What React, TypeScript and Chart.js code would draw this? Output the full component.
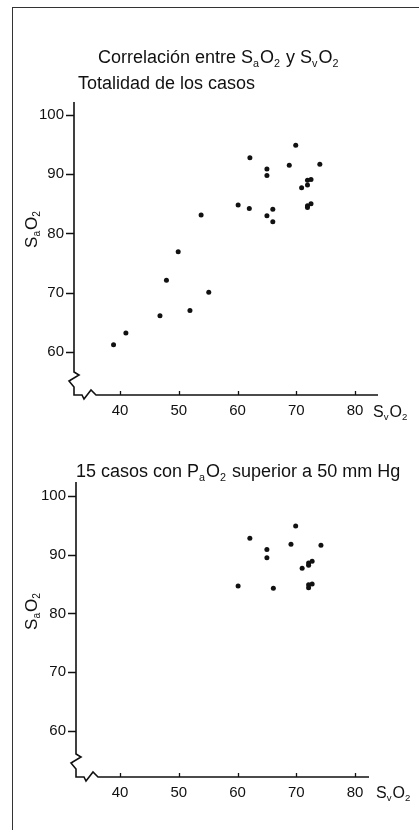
import React, { useEffect, useRef } from "react";
import { Chart, registerables } from "chart.js";

Chart.register(...registerables);

// ---- data (SvO2 on x, SaO2 on y) ----
const allCasesSvO2 = [
  38.9, 41.0, 46.8, 47.9, 49.9, 51.9, 55.1, 53.8, 60.1, 62.0, 65.0, 66.0, 66.0,
  62.1, 65.0, 65.0, 68.8, 69.9, 74.0, 70.9, 71.9, 72.5, 71.9, 71.9, 72.5, 71.9,
];
const allCasesSaO2 = [
  61.2, 63.2, 66.1, 72.1, 76.9, 67.0, 70.1, 83.1, 84.8, 84.2, 83.0, 84.1, 82.0,
  92.8, 90.9, 89.8, 91.5, 94.9, 91.7, 87.7, 89.0, 89.1, 88.2, 84.7, 85.0, 84.4,
];
const highPaO2SvO2 = [
  60.1, 62.1, 65.0, 65.0, 66.1, 69.9, 69.1, 74.2, 71.0, 72.1, 72.7, 72.1, 72.1, 72.7, 72.1,
];
const highPaO2SaO2 = [
  84.7, 92.8, 90.9, 89.5, 84.3, 94.9, 91.8, 91.6, 87.7, 88.6, 88.9, 88.2, 84.9, 85.0, 84.4,
];
const xTickValues = [40, 50, 60, 70, 80];
const yTickValues = [60, 70, 80, 90, 100];

type Part = [string, boolean];
const mainTitle: Part[] = [
  ["Correlación entre S", false], ["a", true], ["O", false], ["2", true],
  [" y S", false], ["v", true], ["O", false], ["2", true],
];
const topSubtitle: Part[] = [["Totalidad de los casos", false]];
const bottomSubtitle: Part[] = [
  ["15 casos con P", false], ["a", true], ["O", false], ["2", true],
  [" superior a 50 mm Hg", false],
];
const yAxisTitle: Part[] = [["S", false], ["a", true], ["O", false], ["2", true]];
const xAxisTitle: Part[] = [["S", false], ["v", true], ["O", false], ["2", true]];

const FONT = '"Liberation Sans", Arial, Helvetica, sans-serif';
const INK = "#111";
const W = 419;
const H1 = 430;
const H2 = 400;

function richWidth(ctx: CanvasRenderingContext2D, parts: Part[], size: number) {
  let w = 0;
  for (const [t, sub] of parts) {
    ctx.font = `${sub ? size * 0.6 : size}px ${FONT}`;
    w += ctx.measureText(t).width;
  }
  return w;
}

function drawRich(ctx: CanvasRenderingContext2D, parts: Part[], x: number, y: number, size: number) {
  let cx = x;
  ctx.textBaseline = "alphabetic";
  ctx.textAlign = "left";
  for (const [t, sub] of parts) {
    const s = sub ? size * 0.6 : size;
    ctx.font = `${s}px ${FONT}`;
    ctx.fillText(t, cx, sub ? y + size * 0.2 : y);
    cx += ctx.measureText(t).width + (sub ? 1 : 0);
  }
}

interface Decor {
  titles: { parts: Part[]; x: number; y: number }[];
  yTitleCenter: number;
  yTitleBase: number;
  xTitleX: number;
  xTitleY: number;
}

function decorPlugin(cfg: Decor) {
  return {
    id: "decor",
    afterDraw(chart: any) {
      const { ctx, chartArea: a, scales } = chart;
      const xs = scales.x;
      const ys = scales.y;
      const L = a.left;
      const B = a.bottom;
      ctx.save();
      ctx.strokeStyle = INK;
      ctx.fillStyle = INK;
      ctx.lineWidth = 1.6;
      ctx.lineJoin = "miter";
      ctx.beginPath();
      ctx.moveTo(L, a.top);
      ctx.lineTo(L, B - 23);
      ctx.lineTo(L + 5, B - 20);
      ctx.lineTo(L - 5, B - 14);
      ctx.lineTo(L, B - 8);
      ctx.lineTo(L, B);
      ctx.lineTo(L + 8, B);
      ctx.lineTo(L + 10, B + 4);
      ctx.lineTo(L + 17, B - 5);
      ctx.lineTo(L + 22, B);
      ctx.lineTo(a.right, B);
      ctx.stroke();

      ctx.lineWidth = 1.3;
      ctx.beginPath();
      for (const v of yTickValues) {
        const py = Math.round(ys.getPixelForValue(v)) + 0.5;
        ctx.moveTo(L - 8, py);
        ctx.lineTo(L, py);
      }
      for (const v of xTickValues) {
        const px = Math.round(xs.getPixelForValue(v)) + 0.5;
        ctx.moveTo(px, B);
        ctx.lineTo(px, B - 4);
      }
      ctx.stroke();

      for (const t of cfg.titles) drawRich(ctx, t.parts, t.x, t.y, 18);

      // y axis title, rotated
      const yw = richWidth(ctx, yAxisTitle, 17);
      ctx.save();
      ctx.translate(cfg.yTitleBase, cfg.yTitleCenter + yw / 2);
      ctx.rotate(-Math.PI / 2);
      drawRich(ctx, yAxisTitle, 0, 0, 17);
      ctx.restore();

      drawRich(ctx, xAxisTitle, cfg.xTitleX, cfg.xTitleY, 16);
      ctx.restore();
    },
  };
}

function makeChart(
  canvas: HTMLCanvasElement,
  xsv: number[],
  ysv: number[],
  geom: { h: number; left: number; top: number; bottom: number; right: number; xmin: number; xmax: number; ymin: number; ymax: number },
  decor: Decor
) {
  const points = xsv.map((x, i) => ({ x, y: ysv[i] }));
  const tickFont = { family: FONT, size: 15 };
  return new Chart(canvas, {
    type: "scatter",
    data: {
      datasets: [
        {
          data: points,
          pointRadius: 2.5,
          pointBackgroundColor: INK,
          pointBorderWidth: 0,
          showLine: false,
        },
      ],
    },
    options: {
      responsive: false,
      animation: false,
      devicePixelRatio: 1,
      layout: { padding: { left: 0, top: geom.top, right: W - geom.right, bottom: 0 } },
      plugins: { legend: { display: false }, tooltip: { enabled: false } },
      scales: {
        x: {
          type: "linear",
          min: geom.xmin,
          max: geom.xmax,
          afterBuildTicks: (s: any) => {
            s.ticks = xTickValues.map((v) => ({ value: v }));
          },
          afterFit: (s: any) => {
            s.height = geom.h - geom.bottom;
          },
          grid: { display: false, drawTicks: false },
          border: { display: false },
          ticks: { font: tickFont, color: INK, padding: 7, maxRotation: 0, autoSkip: false },
        },
        y: {
          type: "linear",
          min: geom.ymin,
          max: geom.ymax,
          afterBuildTicks: (s: any) => {
            s.ticks = yTickValues.map((v) => ({ value: v }));
          },
          afterFit: (s: any) => {
            s.width = geom.left;
          },
          grid: { display: false, drawTicks: false },
          border: { display: false },
          ticks: { font: tickFont, color: INK, padding: 10, autoSkip: false },
        },
      },
    },
    plugins: [decorPlugin(decor)],
  } as any);
}

export default function App() {
  const topRef = useRef<HTMLCanvasElement>(null);
  const botRef = useRef<HTMLCanvasElement>(null);

  useEffect(() => {
    if (!topRef.current || !botRef.current) return;
    const c1 = makeChart(
      topRef.current,
      allCasesSvO2,
      allCasesSaO2,
      { h: H1, left: 74, top: 102, bottom: 395, right: 378, xmin: 32.17, xmax: 83.9, ymin: 52.74, ymax: 102.19 },
      {
        titles: [
          { parts: mainTitle, x: 98, y: 63 },
          { parts: topSubtitle, x: 78, y: 89 },
        ],
        yTitleCenter: 230,
        yTitleBase: 37,
        xTitleX: 373,
        xTitleY: 417,
      }
    );
    const c2 = makeChart(
      botRef.current,
      highPaO2SvO2,
      highPaO2SaO2,
      { h: H2, left: 76, top: 52, bottom: 347, right: 369, xmin: 32.51, xmax: 82.38, ymin: 52.17, ymax: 102.38 },
      {
        titles: [{ parts: bottomSubtitle, x: 76, y: 47 }],
        yTitleCenter: 182,
        yTitleBase: 37,
        xTitleX: 376,
        xTitleY: 368,
      }
    );
    return () => {
      c1.destroy();
      c2.destroy();
    };
  }, []);

  return (
    <div style={{ position: "fixed", left: 0, top: 0, width: W, height: 830, background: "#fff", overflow: "hidden" }}>
      <div
        style={{
          position: "absolute",
          left: 12,
          top: 7,
          width: 420,
          height: 840,
          borderLeft: "1px solid #333",
          borderTop: "1.5px solid #333",
        }}
      />
      <canvas ref={topRef} width={W} height={H1} style={{ position: "absolute", left: 0, top: 0, width: W, height: H1 }} />
      <canvas ref={botRef} width={W} height={H2} style={{ position: "absolute", left: 0, top: H1, width: W, height: H2 }} />
    </div>
  );
}
